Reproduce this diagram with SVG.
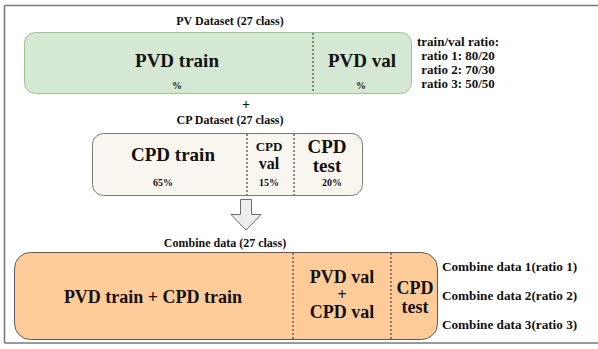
<svg xmlns="http://www.w3.org/2000/svg" width="598" height="349" viewBox="0 0 598 349">
  <style>
    text { font-family: "Liberation Serif", "Times New Roman", serif; font-weight: bold; fill: #111; }
    .mid { text-anchor: middle; }
    .cap { font-size: 12px; }
    .big { font-size: 19px; }
    .pct { font-size: 10px; }
    .ratio { font-size: 13px; }
    .side { font-size: 13.2px; }
    .div { stroke: #444; stroke-width: 1.2; stroke-dasharray: 2 2; fill: none; }
  </style>

  <!-- outer frame -->
  <rect x="0" y="0" width="598" height="349" fill="#ffffff"/>
  <path d="M4.5 5.5 H598 M4.5 5.5 V343 M4.5 343 H598" stroke="#7a7a7a" stroke-width="1.6" fill="none"/>

  <!-- PV dataset -->
  <g id="pv-dataset">
    <text class="cap mid" x="230" y="25">PV Dataset (27 class)</text>
    <rect x="24.5" y="32.5" width="387" height="61" rx="11" fill="#d5e8d4" stroke="#9cc58f" stroke-width="1"/>
    <line class="div" x1="313" y1="33" x2="313" y2="93"/>
    <text class="big mid" x="177" y="67">PVD train</text>
    <text class="pct mid" x="177" y="89">%</text>
    <text class="big mid" x="362" y="67">PVD val</text>
    <text class="pct mid" x="361" y="89">%</text>
  </g>

  <g id="ratios">
    <text class="ratio mid" x="458" y="46">train/val ratio:</text>
    <text class="ratio mid" x="458" y="60">ratio 1: 80/20</text>
    <text class="ratio mid" x="458" y="74">ratio 2: 70/30</text>
    <text class="ratio mid" x="458" y="88">ratio 3: 50/50</text>
  </g>

  <g id="plus">
    <text class="mid" x="246" y="109" font-size="14">+</text>
  </g>

  <!-- CP dataset -->
  <g id="cp-dataset">
    <text class="cap mid" x="230" y="124">CP Dataset (27 class)</text>
    <rect x="92.5" y="133.5" width="270" height="62" rx="11" fill="#f8f6ee" stroke="#7a7a7a" stroke-width="1"/>
    <line class="div" x1="247" y1="134" x2="247" y2="195"/>
    <line class="div" x1="294" y1="134" x2="294" y2="195"/>
    <text class="big mid" x="173" y="161">CPD train</text>
    <text class="pct mid" x="163" y="186">65%</text>
    <text class="mid" x="269" y="151" font-size="13">CPD</text>
    <text class="mid" x="269" y="169" font-size="16">val</text>
    <text class="pct mid" x="269" y="186">15%</text>
    <text class="big mid" x="327" y="153">CPD</text>
    <text class="big mid" x="327" y="172">test</text>
    <text class="pct mid" x="332" y="186">20%</text>
  </g>

  <!-- flow arrow -->
  <g id="connectors">
    <path d="M240.5 199.5 H251.5 V214.5 H261 L246 230 L231 214.5 H240.5 Z" fill="#eeeeee" stroke="#6d6d6d" stroke-width="1"/>
  </g>

  <!-- combined data -->
  <g id="combine-data">
    <text class="cap mid" x="225" y="247">Combine data (27 class)</text>
    <rect x="14.5" y="252.5" width="423" height="87" rx="16" fill="#ffcc99" stroke="#5a5a5a" stroke-width="1"/>
    <line class="div" x1="293" y1="253" x2="293" y2="339"/>
    <line class="div" x1="391" y1="253" x2="391" y2="339"/>
    <text class="mid" x="153" y="303" font-size="18">PVD train + CPD train</text>
    <text class="mid" x="342" y="283" font-size="18">PVD val</text>
    <text class="mid" x="342" y="300" font-size="16">+</text>
    <text class="mid" x="342" y="318" font-size="18">CPD val</text>
    <text class="mid" x="415" y="294" font-size="18">CPD</text>
    <text class="mid" x="415" y="313" font-size="18">test</text>
  </g>

  <g id="combine-labels">
    <text class="side" x="442" y="271">Combine data 1(ratio 1)</text>
    <text class="side" x="442" y="300">Combine data 2(ratio 2)</text>
    <text class="side" x="442" y="329">Combine data 3(ratio 3)</text>
  </g>
</svg>
